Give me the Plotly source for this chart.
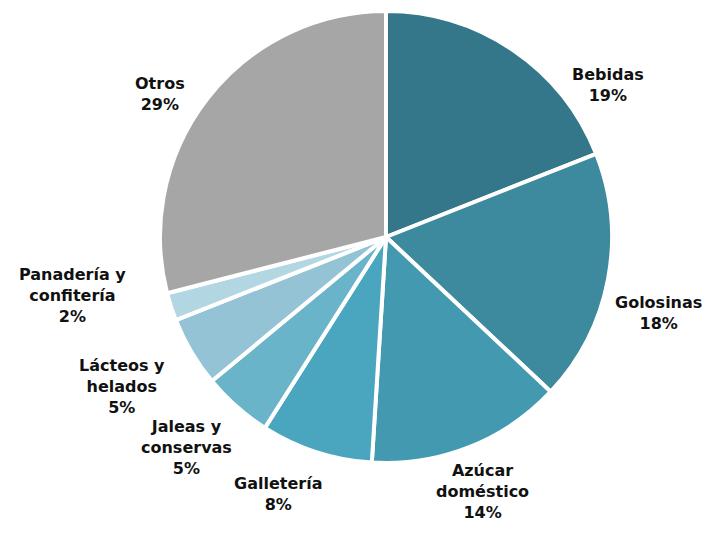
import plotly.graph_objects as go

# ---- data ----
categories = ["Bebidas", "Golosinas", "Azúcar<br>doméstico", "Galletería",
              "Jaleas y<br>conservas", "Lácteos y<br>helados",
              "Panadería y<br>confitería", "Otros"]
values = [19, 18, 14, 8, 5, 5, 2, 29]

# ---- style / layout ----
colors = ["#34778A", "#3D899E", "#4399B0", "#4AA6BF", "#6AB4CA",
          "#93C3D4", "#B2D7E2", "#A6A6A6"]
W, H = 707, 535
CX, CY, R = 386, 237, 226          # pie centre / radius in pixels
# label block centres in pixels (best-fit placement as in the original)
LABEL_POS = [(608, 85), (658, 313), (482, 491), (278, 494),
             (187, 447), (122, 386), (72, 295), (160, 94)]

fig = go.Figure(go.Pie(
    labels=categories,
    values=values,
    sort=False,
    direction="clockwise",
    rotation=0,
    marker=dict(colors=colors, line=dict(color="white", width=4)),
    textinfo="none",
    showlegend=False,
    hoverinfo="label+value",
    domain=dict(x=[(CX - R) / W, (CX + R) / W],
                y=[(H - CY - R) / H, (H - CY + R) / H]),
))

for lab, val, (px, py) in zip(categories, values, LABEL_POS):
    fig.add_annotation(
        x=px / W, y=1 - py / H, xref="paper", yref="paper",
        xanchor="center", yanchor="middle", align="center",
        text=f"{lab}<br>{val}%", showarrow=False,
        font=dict(family="DejaVu Sans", size=16, color="#111111", weight="bold"),
    )

fig.update_layout(
    width=W, height=H,
    margin=dict(l=0, r=0, t=0, b=0),
    paper_bgcolor="white",
    plot_bgcolor="white",
)

fig.write_html("out.html",
               config={"displayModeBar": False},
               post_script="document.body.style.margin='0';"
                           "document.body.style.overflow='hidden';")
